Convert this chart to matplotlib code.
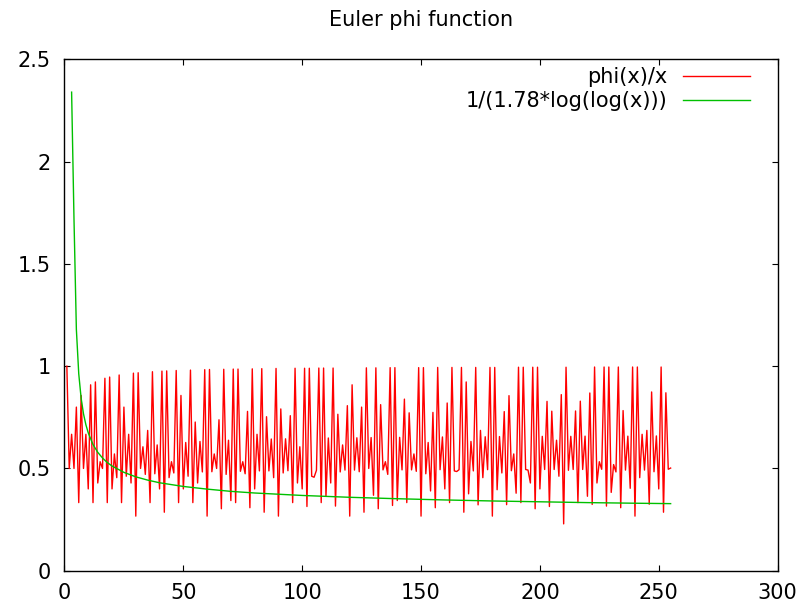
import matplotlib
matplotlib.use('Agg')
import matplotlib.pyplot as plt

# phi(x)/x for x = 1..255
x_phi = list(range(1, 256))
phi_ratio = [
    1.0, 0.5, 0.667, 0.5, 0.8, 0.333, 0.857, 0.5, 0.667, 0.4,
    0.909, 0.333, 0.923, 0.429, 0.533, 0.5, 0.941, 0.333, 0.947, 0.4,
    0.571, 0.455, 0.957, 0.333, 0.8, 0.462, 0.667, 0.429, 0.966, 0.267,
    0.968, 0.5, 0.606, 0.471, 0.686, 0.333, 0.973, 0.474, 0.615, 0.4,
    0.976, 0.286, 0.977, 0.455, 0.533, 0.478, 0.979, 0.333, 0.857, 0.4,
    0.627, 0.462, 0.981, 0.333, 0.727, 0.429, 0.632, 0.483, 0.983, 0.267,
    0.984, 0.484, 0.571, 0.5, 0.738, 0.303, 0.985, 0.471, 0.638, 0.343,
    0.986, 0.333, 0.986, 0.486, 0.533, 0.474, 0.779, 0.308, 0.987, 0.4,
    0.667, 0.488, 0.988, 0.286, 0.753, 0.488, 0.644, 0.455, 0.989, 0.267,
    0.791, 0.478, 0.645, 0.489, 0.758, 0.333, 0.990, 0.429, 0.606, 0.4,
    0.990, 0.314, 0.990, 0.462, 0.457, 0.491, 0.991, 0.333, 0.991, 0.364,
    0.649, 0.429, 0.991, 0.316, 0.765, 0.483, 0.615, 0.492, 0.807, 0.267,
    0.909, 0.492, 0.650, 0.484, 0.8, 0.286, 0.992, 0.5, 0.651, 0.369,
    0.992, 0.303, 0.812, 0.493, 0.533, 0.471, 0.993, 0.319, 0.993, 0.343,
    0.652, 0.493, 0.839, 0.333, 0.772, 0.493, 0.571, 0.486, 0.993, 0.267,
    0.993, 0.474, 0.627, 0.390, 0.774, 0.308, 0.994, 0.494, 0.654, 0.4,
    0.820, 0.333, 0.994, 0.488, 0.485, 0.494, 0.994, 0.286, 0.923, 0.376,
    0.632, 0.488, 0.994, 0.322, 0.686, 0.455, 0.655, 0.494, 0.994, 0.267,
    0.994, 0.396, 0.656, 0.478, 0.778, 0.323, 0.856, 0.489, 0.571, 0.379,
    0.995, 0.333, 0.995, 0.495, 0.492, 0.429, 0.995, 0.303, 0.995, 0.4,
    0.657, 0.495, 0.828, 0.314, 0.780, 0.495, 0.638, 0.462, 0.861, 0.229,
    0.995, 0.491, 0.657, 0.495, 0.781, 0.333, 0.829, 0.495, 0.658, 0.364,
    0.869, 0.324, 0.996, 0.429, 0.533, 0.496, 0.996, 0.316, 0.996, 0.383,
    0.519, 0.483, 0.996, 0.308, 0.783, 0.492, 0.658, 0.403, 0.996, 0.267,
    0.996, 0.455, 0.667, 0.492, 0.686, 0.325, 0.874, 0.484, 0.659, 0.4,
    0.996, 0.286, 0.870, 0.496, 0.502,
]

# 1/(1.78*log(log(x))) curve, points
x_bound = [3, 4, 5, 6, 7, 8, 9, 10, 12, 14, 16, 18, 20, 25, 30, 35, 40,
           50, 60, 70, 80, 100, 120, 140, 160, 180, 200, 220, 240, 255]
bound = [2.34, 1.720, 1.180, 0.963, 0.844, 0.767, 0.714, 0.674, 0.617, 0.579,
         0.551, 0.529, 0.512, 0.481, 0.459, 0.443, 0.430, 0.412, 0.399, 0.388,
         0.380, 0.368, 0.359, 0.352, 0.346, 0.341, 0.337, 0.333, 0.330, 0.328]

x_ticks = [0, 50, 100, 150, 200, 250, 300]
y_ticks = [0, 0.5, 1, 1.5, 2, 2.5]
y_tick_labels = ['0', '0.5', '1', '1.5', '2', '2.5']

plt.rcParams['font.family'] = ['DejaVu Sans']

fig = plt.figure(figsize=(8, 6.1), dpi=100)
ax = fig.add_axes([0.0806, 0.0644, 0.8914, 0.8382])

ax.plot(x_phi, phi_ratio, color='#ff0000', lw=1.0, label='phi(x)/x')
ax.plot(x_bound, bound, color='#00c000', lw=1.0, label='1/(1.78*log(log(x)))')

ax.set_xlim(0, 300)
ax.set_ylim(0, 2.5)
ax.set_xticks(x_ticks)
ax.set_xticklabels([str(t) for t in x_ticks])
ax.set_yticks(y_ticks)
ax.set_yticklabels(y_tick_labels)
ax.tick_params(direction='in', length=4.5, width=0.8, top=True, right=True,
               labelsize=15, pad=10, colors='black')
ax.tick_params(axis='x', pad=9)
for s in ax.spines.values():
    s.set_linewidth(1.0)
    s.set_color('black')

ax.set_title('Euler phi function', fontsize=15, pad=24)

leg = ax.legend(loc='upper right', bbox_to_anchor=(750 / 800, 1 - 67 / 610),
                bbox_transform=fig.transFigure, frameon=False, fontsize=15,
                markerfirst=False, handlelength=3.2, handletextpad=0.75,
                labelspacing=0.2, borderaxespad=0, borderpad=0)

fig.savefig('out.png', dpi=100)
